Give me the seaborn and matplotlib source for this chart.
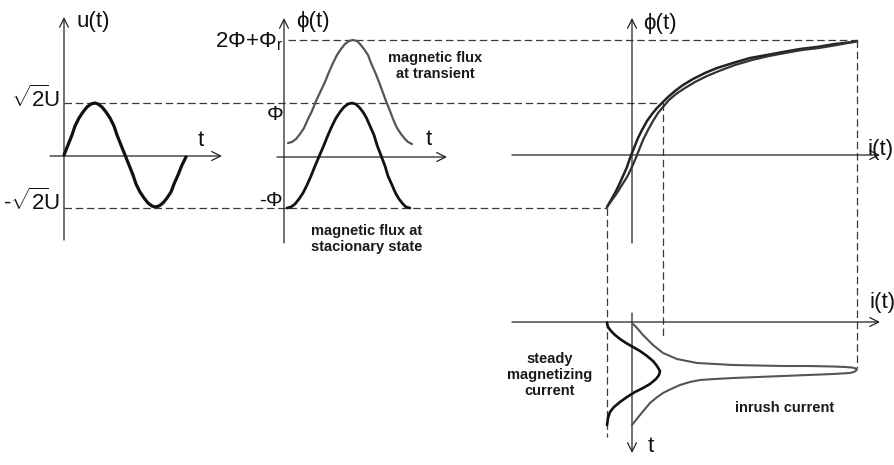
import matplotlib
matplotlib.use("Agg")
import matplotlib.pyplot as plt
import seaborn as sns
import pandas as pd

sns.set_theme(style="white")
plt.rcParams['font.family'] = ['Liberation Sans', 'DejaVu Sans']
plt.rcParams['mathtext.fontset'] = 'custom'
plt.rcParams['mathtext.rm'] = 'Liberation Sans'
plt.rcParams['mathtext.it'] = 'Liberation Sans:italic'
plt.rcParams['mathtext.bf'] = 'Liberation Sans:bold'

# ---------------- data (diagram coordinates, pixels) -------------
# u(t) supply voltage sine
u_x = [64, 68, 72, 75, 79, 83, 87, 91, 95, 98, 102, 106, 110, 114, 117, 121, 125,
       129, 133, 136, 140, 144, 148, 152, 155, 159, 163, 167, 171, 174, 178, 182, 186]
u_y = [155, 145, 135, 126, 118, 112, 107, 104, 103, 104, 107, 112, 118, 126, 135, 145, 155,
       165, 175, 184, 192, 198, 203, 206, 207, 206, 203, 198, 192, 184, 175, 165, 157]

# steady-state flux
fs_x = [287, 291, 295, 299, 303, 307, 311, 315, 319.5, 324, 328, 332, 336, 340, 344, 348, 352,
        355.6, 359, 363, 366.5, 370, 374, 377, 381, 385, 388, 392, 395.5, 399, 403, 406, 410]
fs_y = [208, 207, 204, 199, 193, 185, 176, 166, 155.5, 145, 135, 126, 118, 112, 107, 104, 103,
        104, 107, 112, 118, 126, 135, 145, 155.5, 166, 176, 185, 193, 199, 204, 207, 208]

# transient flux
ft_x = [288, 292, 296, 300, 304, 308, 312, 316, 320.5, 325, 329, 333, 337, 341, 345, 349, 353,
        357, 360, 364, 368, 371, 375, 379, 382.5, 386, 390, 393, 397, 401, 405, 408, 412]
ft_y = [143, 142, 139, 134, 128, 119, 111, 101, 91.5, 82, 72, 63, 55, 49, 44, 41, 40,
        41, 44, 49, 55, 63, 72, 82, 91.5, 101, 111, 119, 128, 134, 139, 142, 144]

# magnetisation curve (two branches of the loop)
ha_x = [607, 611, 615, 619, 623, 627, 630, 634, 638, 642, 647, 652, 657, 662, 668, 675, 683,
        693, 705, 717, 733, 750, 767, 783, 800, 817, 835, 853, 857]
ha_y = [207, 200, 193, 185, 176, 167, 158, 148, 138, 130, 121, 114, 108, 103, 97, 91, 85,
        79, 73, 68, 63, 58, 55, 52, 49, 47, 44, 42, 41]
hb_x = [607, 612, 617, 622, 627, 631, 635, 639, 643, 648, 653, 658, 663, 669, 676, 685, 695,
        707, 719, 735, 752, 769, 785, 802, 819, 837, 853, 857]
hb_y = [207, 200, 193, 185, 177, 169, 160, 150, 140, 130, 121, 113, 107, 100, 94, 88, 82,
        76, 71, 65, 60, 56, 53, 50, 48, 45, 42, 41]

# steady magnetizing current (time runs downward)
sm_x = [607, 608, 611, 615, 620, 626, 633, 640, 647, 653, 657, 660, 659, 656, 650, 643,
        635, 627, 620, 614, 610, 608, 607]
sm_y = [323, 327, 331, 335, 339, 343, 347, 351, 356, 361, 366, 371, 375, 379, 384, 388,
        392, 397, 402, 407, 412, 418, 425]

# inrush current
ir_x = [632, 637, 643, 648, 653, 658, 663, 670, 677, 687, 697, 715, 733, 758, 783, 808, 833,
        845, 852, 856, 857, 855, 850, 833, 808, 783, 758, 733, 715, 700, 690, 680, 671, 663,
        656, 650, 645, 640, 636, 632]
ir_y = [323, 328, 335, 340, 345, 349, 353, 356, 359, 361, 363, 364, 365, 365.5, 366, 366,
        366.5, 367, 367.5, 368.5, 369.5, 371.5, 373, 374, 375, 376, 377, 378, 379, 380, 382,
        385, 389, 393, 398, 403, 409, 415, 420, 425]

# dashed guide lines: (x0, y0, x1, y1)
guides = [
    (64, 103, 663, 103),
    (64, 208, 607, 208),
    (288, 40, 857, 40),
    (857, 40, 857, 368),
    (607, 208, 607, 437),
    (663, 103, 663, 337),
]

# axes: (x_start, y_start, x_tip, y_tip)
axes_arrows = [
    (64, 240, 64, 17), (50, 156, 222, 156),
    (284, 243, 284, 18), (277, 157, 447, 157),
    (632, 243, 632, 18), (512, 155, 880, 155),
    (512, 322, 880, 322), (632, 313, 632, 453),
]

# ---------------- figure ----------------
fig = plt.figure(figsize=(8.95, 4.65), dpi=100)
ax = fig.add_axes([0, 0, 1, 1])

dash_col = '#3a3a3a'
for x0, y0, x1, y1 in guides:
    ax.plot([x0, x1], [y0, y1], color=dash_col, lw=0.9, ls=(0, (6, 3)), zorder=1)

for x0, y0, x1, y1 in axes_arrows:
    ax.annotate('', xy=(x1, y1), xytext=(x0, y0),
                arrowprops=dict(arrowstyle='->', lw=0.9, color='#222222',
                                mutation_scale=16, shrinkA=0, shrinkB=0), zorder=2)

def curve(xs, ys, color, lw):
    df = pd.DataFrame({'x': xs, 'y': ys})
    sns.lineplot(data=df, x='x', y='y', sort=False, ax=ax, color=color, lw=lw,
                 estimator=None, zorder=3, solid_capstyle='round', solid_joinstyle='round')

curve(u_x, u_y, '#111111', 2.3)
curve(ft_x, ft_y, '#555555', 1.6)
curve(fs_x, fs_y, '#111111', 2.0)
curve(ha_x, ha_y, '#222222', 1.8)
curve(hb_x, hb_y, '#333333', 1.6)
curve(sm_x, sm_y, '#111111', 1.9)
curve(ir_x, ir_y, '#555555', 1.5)
ax.set_xlim(0, 895)
ax.set_ylim(465, 0)
ax.axis('off')

big = 16
txt = dict(color='#111111')
ax.text(77, 22, 'u(t)', fontsize=big, ha='left', va='center', **txt)
ax.text(201, 140, 't', fontsize=big, ha='center', va='center', **txt)
ax.text(60, 99, r'$\sqrt{2}\!\mathrm{U}$', fontsize=big, ha='right', va='center', **txt)
ax.text(60, 202, r'-$\sqrt{2}\!\mathrm{U}$', fontsize=big, ha='right', va='center', **txt)
ax.text(283, 42, '2Φ+Φ$_\\mathrm{r}$', fontsize=big, ha='right', va='center', **txt)
ax.text(275, 114, 'Φ', fontsize=15, ha='center', va='center', **txt)
ax.text(283, 200, '-Φ', fontsize=15, ha='right', va='center', **txt)
ax.text(296, 22, 'ϕ(t)', fontsize=big, ha='left', va='center', **txt)
ax.text(429, 139, 't', fontsize=big, ha='center', va='center', **txt)
ax.text(643, 24, 'ϕ(t)', fontsize=big, ha='left', va='center', **txt)
ax.text(868, 149, 'i(t)', fontsize=big, ha='left', va='center', **txt)
ax.text(870, 302, 'i(t)', fontsize=big, ha='left', va='center', **txt)
ax.text(651, 446, 't', fontsize=big, ha='center', va='center', **txt)

small = 10.5
sw = dict(fontsize=small, fontweight='bold', color='#1a1a1a')
ax.text(435, 66, 'magnetic flux\nat transient', ha='center', va='center',
        linespacing=1.15, **sw)
ax.text(367, 239, 'magnetic flux at\nstacionary state', ha='center', va='center',
        linespacing=1.15, **sw)
ax.text(550, 375, 'steady\nmagnetizing\ncurrent', ha='center', va='center',
        linespacing=1.2, **sw)
ax.text(785, 408, 'inrush current', ha='center', va='center', **sw)

fig.savefig('out.png', dpi=100)
